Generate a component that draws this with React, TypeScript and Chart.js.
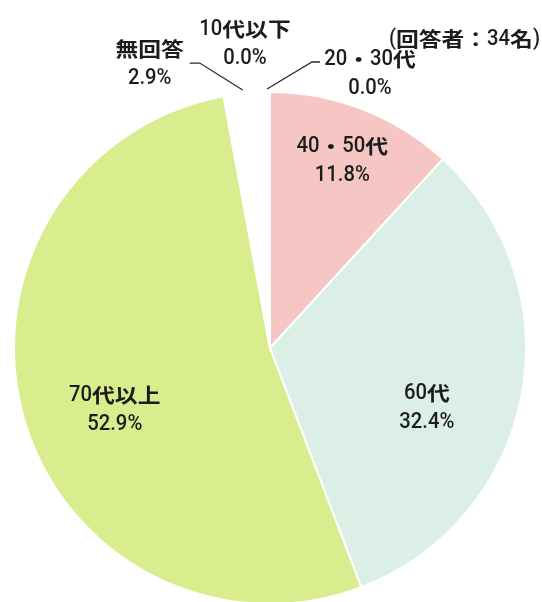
import React, { useEffect, useRef } from "react";
import { Chart, registerables } from "chart.js";

Chart.register(...registerables);

const categories = ["10代以下", "20・30代", "40・50代", "60代", "70代以上", "無回答"];
const values = [0.0, 0.0, 11.8, 32.4, 52.9, 2.9];
const valueLabels = ["0.0%", "0.0%", "11.8%", "32.4%", "52.9%", "2.9%"];
const respondentNote = "(回答者：34名)";

const colors = ["#ffffff", "#ffffff", "#f5c6c4", "#dcefe7", "#d9ec8e", "#ffffff"];

// label placement: fraction of radius along slice mid-angle, plus nudge
const labelRadius = [1, 1, 0.78, 0.56, 0.646, 1];
const labelNudge: [number, number][] = [
  [-25, -48],
  [100, -18],
  [0, -1],
  [16, 33],
  [4, 17],
  [-97, -29],
];
// leader lines (relative to slice edge point), null = none
const leaders: ([number, number][] | null)[] = [
  null,
  [[-3, -3], [42, -30], [50, -30]],
  null,
  null,
  null,
  [[-4, -3], [-47, -30], [-57, -30]],
];

const CJK_FONT = 'bold 20px "Noto Sans CJK JP", sans-serif';
const ASCII_FONT = '500 22px Roboto, "Noto Sans", sans-serif';
const CJK_SCALE = 1.14;
const ASCII_SCALE = 0.92;

function isCJK(ch: string) {
  const c = ch.codePointAt(0) || 0;
  return c >= 0x3000;
}

function drawMixed(ctx: CanvasRenderingContext2D, text: string, x: number, y: number, align: "center" | "right") {
  const runs: { t: string; cjk: boolean }[] = [];
  for (const ch of Array.from(text)) {
    const cjk = isCJK(ch);
    const last = runs[runs.length - 1];
    if (last && last.cjk === cjk) last.t += ch;
    else runs.push({ t: ch, cjk });
  }
  const widths = runs.map((r) => {
    ctx.font = r.cjk ? CJK_FONT : ASCII_FONT;
    return ctx.measureText(r.t).width * (r.cjk ? CJK_SCALE : ASCII_SCALE);
  });
  const total = widths.reduce((a, b) => a + b, 0);
  let cx = align === "center" ? x - total / 2 : x - total;
  ctx.textAlign = "left";
  runs.forEach((r, k) => {
    ctx.font = r.cjk ? CJK_FONT : ASCII_FONT;
    ctx.save();
    ctx.translate(cx, y);
    ctx.scale(r.cjk ? CJK_SCALE : ASCII_SCALE, 1);
    ctx.fillText(r.t, 0, 0);
    ctx.restore();
    cx += widths[k];
  });
}

const labelPlugin = {
  id: "sliceLabels",
  afterDraw(chart: any) {
    const ctx = chart.ctx as CanvasRenderingContext2D;
    const meta = chart.getDatasetMeta(0);
    ctx.save();
    ctx.fillStyle = "#1c1c1c";
    ctx.strokeStyle = "#2a2a2a";
    ctx.lineWidth = 1.3;
    ctx.textBaseline = "middle";
    meta.data.forEach((arc: any, i: number) => {
      const p = arc.getProps(["x", "y", "startAngle", "endAngle", "outerRadius"], true);
      const mid = (p.startAngle + p.endAngle) / 2;
      const r = p.outerRadius * labelRadius[i];
      const ax = p.x + Math.cos(mid) * r;
      const ay = p.y + Math.sin(mid) * r;
      const cx = ax + labelNudge[i][0];
      const cy = ay + labelNudge[i][1];
      drawMixed(ctx, categories[i], cx, cy - 14.5, "center");
      drawMixed(ctx, valueLabels[i], cx, cy + 14.5, "center");
      const ld = leaders[i];
      if (ld) {
        ctx.beginPath();
        ld.forEach((pt, k) => {
          if (k === 0) ctx.moveTo(ax + pt[0], ay + pt[1]);
          else ctx.lineTo(ax + pt[0], ay + pt[1]);
        });
        ctx.stroke();
      }
    });
    drawMixed(ctx, respondentNote, 540, 39, "right");
    ctx.restore();
  },
};

export default function App() {
  const ref = useRef<HTMLCanvasElement>(null);
  useEffect(() => {
    document.body.style.margin = "0";
    const chart = new Chart(ref.current!, {
      type: "pie",
      data: {
        labels: categories,
        datasets: [
          {
            data: values,
            backgroundColor: colors,
            borderColor: "#ffffff",
            borderWidth: 2,
          },
        ],
      },
      options: {
        responsive: false,
        animation: false,
        layout: { padding: { left: 12, right: 14, top: 91, bottom: 1 } },
        plugins: { legend: { display: false }, tooltip: { enabled: false } },
      },
      plugins: [labelPlugin],
    });
    return () => chart.destroy();
  }, []);
  return (
    <div style={{ position: "fixed", left: 0, top: 0, width: 542, height: 602, overflow: "hidden", background: "#fff" }}>
      <canvas ref={ref} width={542} height={606} style={{ display: "block" }} />
    </div>
  );
}
